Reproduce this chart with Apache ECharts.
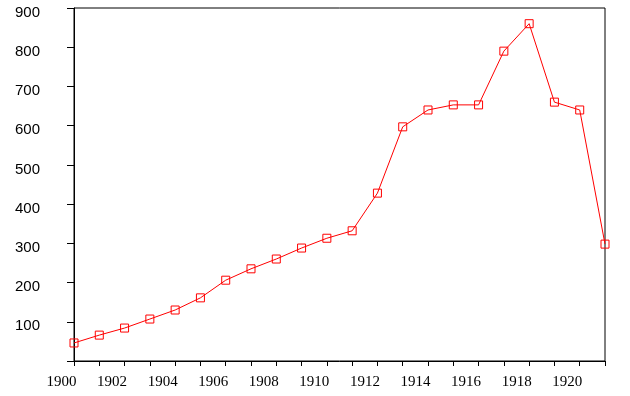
<!DOCTYPE html>
<html>
<head>
<meta charset="utf-8">
<script src="https://cdn.jsdelivr.net/npm/echarts@6/dist/echarts.min.js"></script>
<style>
html,body{margin:0;padding:0;background:#fff;}
#c{width:630px;height:396px;}
</style>
</head>
<body>
<div id="c"></div>
<script>
const years = [1900,1901,1902,1903,1904,1905,1906,1907,1908,1909,1910,1911,1912,1913,1914,1915,1916,1917,1918,1919,1920,1921];
const values = [46,66,84,107,130,161,206,235,260,288,313,332,428,597,640,653,653,790,860,660,640,298];
const yTicks = [0,100,200,300,400,500,600,700,800,900];

const chart = echarts.init(document.getElementById('c'), null, {renderer:'canvas'});
chart.setOption({
  animation:false,
  backgroundColor:'#fff',
  grid:{left:74,right:25,top:8,bottom:35,show:true,borderColor:'#000',borderWidth:1,backgroundColor:'transparent'},
  xAxis:{
    type:'value',min:1900,max:1921,interval:1,
    axisLine:{show:true,lineStyle:{color:'#000',width:1}},
    axisTick:{show:true,length:5,lineStyle:{color:'#000'}},
    splitLine:{show:false},
    axisLabel:{
      margin:14,
      color:'#000',
      fontFamily:'Liberation Serif',
      fontSize:15,
      align:'center',
      padding:[0,25,0,0],
      formatter:function(v){return v%2===0?String(v):'';}
    }
  },
  yAxis:{
    type:'value',min:yTicks[0],max:yTicks[yTicks.length-1],interval:100,
    axisLine:{show:true,lineStyle:{color:'#000',width:1}},
    axisTick:{show:true,length:7,lineStyle:{color:'#000'}},
    splitLine:{show:false},
    axisLabel:{
      margin:34,
      color:'#000',
      fontFamily:'Liberation Sans',
      fontSize:15,
      verticalAlign:'top',
      lineHeight:9,
      formatter:function(v){return v===0?'':String(v);}
    }
  },
  series:[{
    type:'line',
    data:years.map((y,i)=>[y,values[i]]),
    symbol:'rect',
    symbolSize:8,
    showAllSymbol:true,
    lineStyle:{color:'#ff0000',width:1},
    itemStyle:{color:'rgba(0,0,0,0)',borderColor:'#ff0000',borderWidth:1},
    emphasis:{disabled:true}
  }]
});
</script>
</body>
</html>
